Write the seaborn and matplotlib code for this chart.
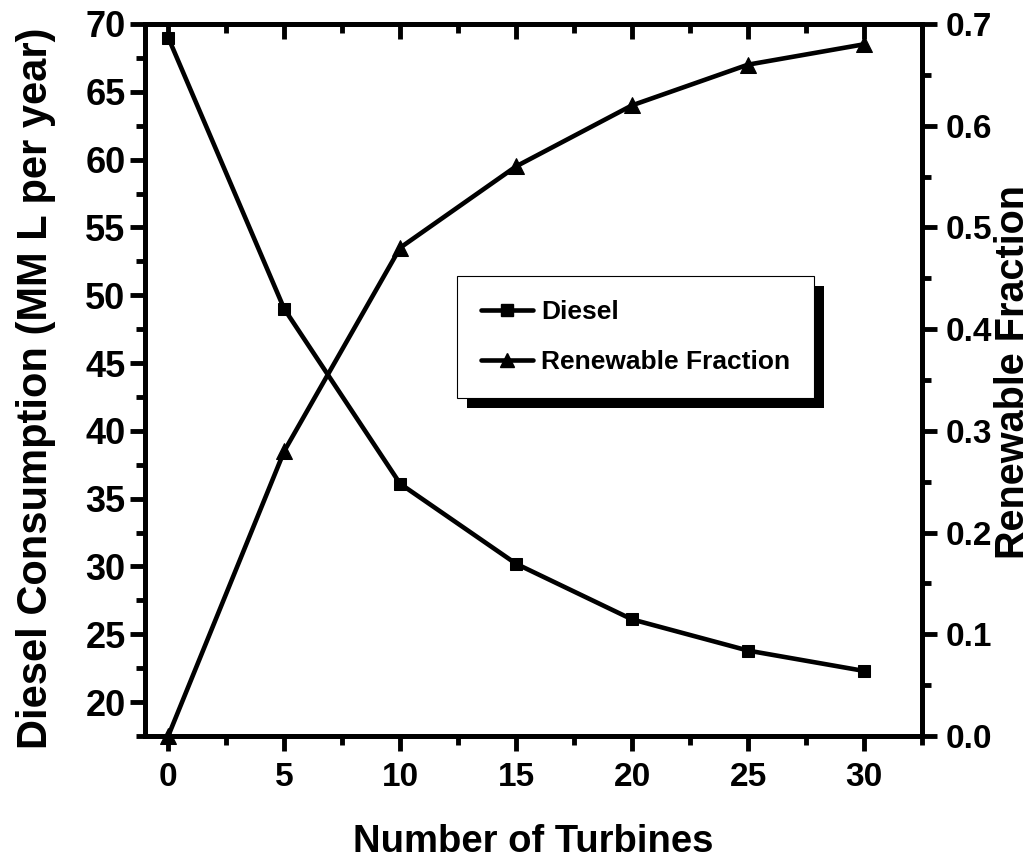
import matplotlib
matplotlib.use("Agg")
import matplotlib.pyplot as plt
import seaborn as sns
import pandas as pd
from matplotlib.patches import Rectangle
from matplotlib.ticker import MultipleLocator, FormatStrFormatter
from matplotlib.lines import Line2D

turbines = [0, 5, 10, 15, 20, 25, 30]
diesel = [69.0, 49.0, 36.1, 30.2, 26.1, 23.8, 22.3]
renewable = [0.0, 0.28, 0.48, 0.56, 0.62, 0.66, 0.68]
series_names = ["Diesel", "Renewable Fraction"]

sns.set_style("white")
plt.rcParams['font.family'] = ['Liberation Sans', 'DejaVu Sans']
plt.rcParams['font.weight'] = 'bold'
for k in ['text.color', 'axes.labelcolor', 'xtick.color', 'ytick.color',
          'xtick.labelcolor', 'ytick.labelcolor', 'axes.edgecolor']:
    plt.rcParams[k] = 'black'

df = pd.DataFrame({"t": turbines, "d": diesel, "r": renewable})

fig = plt.figure(figsize=(10.33, 8.65), dpi=100)
ax = fig.add_axes([0.1404, 0.1491, 0.8925 - 0.1404, 0.9723 - 0.1491])
ax2 = ax.twinx()

lw = 3.3
sns.lineplot(data=df, x="t", y="d", ax=ax, color="black", lw=lw,
             marker="s", markersize=9, markeredgecolor="black", legend=False,
             clip_on=False)
sns.lineplot(data=df, x="t", y="r", ax=ax2, color="black", lw=lw,
             marker="^", markersize=11.5, markeredgecolor="black", legend=False,
             clip_on=False)

ax.set_xlim(-1, 32.5)
ax.set_ylim(17.5, 70)
ax2.set_ylim(0, 0.7)

ax.xaxis.set_major_locator(MultipleLocator(5))
ax.xaxis.set_minor_locator(MultipleLocator(2.5))
ax.yaxis.set_major_locator(MultipleLocator(5))
ax.yaxis.set_minor_locator(MultipleLocator(2.5))
ax2.yaxis.set_major_locator(MultipleLocator(0.1))
ax2.yaxis.set_minor_locator(MultipleLocator(0.05))
ax2.yaxis.set_major_formatter(FormatStrFormatter('%.1f'))

sw = 3.5
for a in (ax, ax2):
    for s in a.spines.values():
        s.set_linewidth(sw)
        s.set_color("black")
        s.set_visible(True)

maj, mnr = 11, 6.5
ax.tick_params(axis='x', which='major', direction='out', length=maj, width=sw,
               labelsize=24, pad=8, bottom=True, top=False)
ax.tick_params(axis='x', which='minor', direction='out', length=mnr, width=sw,
               bottom=True, top=False)
ax.tick_params(axis='y', which='major', direction='out', length=maj, width=sw,
               labelsize=26, pad=3, left=True, right=False)
ax.tick_params(axis='y', which='minor', direction='out', length=mnr, width=sw,
               left=True, right=False)
ax2.tick_params(axis='y', which='major', direction='out', length=maj, width=sw,
                labelsize=24, pad=6, right=True)
ax2.tick_params(axis='y', which='minor', direction='out', length=mnr, width=sw, right=True)

sec = ax.secondary_xaxis('top')
sec.xaxis.set_major_locator(MultipleLocator(5))
sec.xaxis.set_minor_locator(MultipleLocator(2.5))
sec.tick_params(which='major', direction='in', length=maj, width=sw, labeltop=False)
sec.tick_params(which='minor', direction='in', length=mnr, width=sw)
sec.spines['top'].set_linewidth(sw)

for lab in ax.get_xticklabels() + ax.get_yticklabels() + ax2.get_yticklabels():
    lab.set_fontweight('bold')

ax.set_xlabel("Number of Turbines", fontsize=27.5, fontweight='bold', labelpad=22)
ax.set_ylabel("Diesel Consumption (MM L per year)", fontsize=30, fontweight='bold')
ax.yaxis.set_label_coords(-0.1145, 0.489)
ax2.set_ylabel("Renewable Fraction", fontsize=28.5, fontweight='bold')
ax2.yaxis.set_label_coords(1.093, 0.511)

handles = [
    Line2D([], [], color='black', lw=lw, marker='s', markersize=8),
    Line2D([], [], color='black', lw=lw, marker='^', markersize=10),
]
leg = ax2.legend(handles, series_names, loc='upper left',
                 bbox_to_anchor=(0.4015, 0.646), borderaxespad=0,
                 frameon=True, fancybox=False, edgecolor='black', framealpha=1,
                 handlelength=2.0, handletextpad=0.3, borderpad=0.9,
                 labelspacing=1.0, prop={'weight': 'bold', 'size': 19})
leg.get_frame().set_linewidth(0.8)
leg.set_zorder(10)

fig.canvas.draw()
bb = leg.get_window_extent()
off = 10
shadow = Rectangle((bb.x0 + off, bb.y0 - off), bb.width, bb.height,
                   transform=None, facecolor='black', edgecolor='none', zorder=9)
ax2.add_artist(shadow)

fig.savefig("out.png", dpi=100)
